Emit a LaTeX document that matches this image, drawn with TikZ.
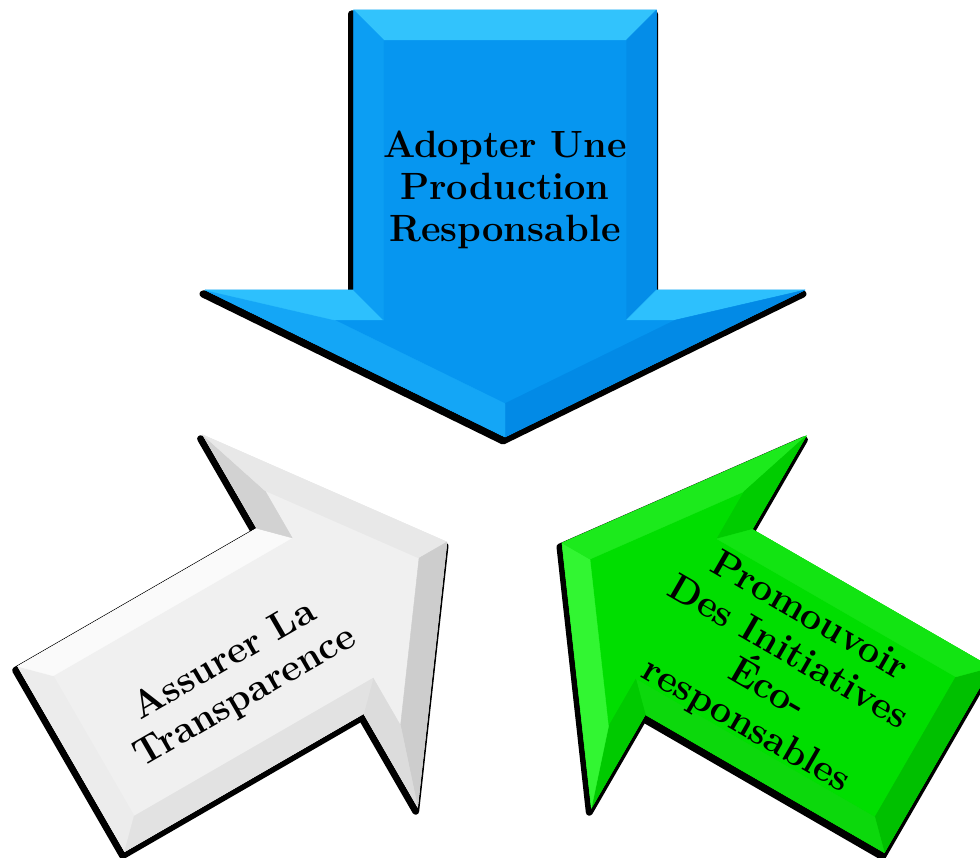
\documentclass[tikz,border=0pt]{standalone}
\usepackage{fontspec}
\definecolor{blBase}{RGB}{6,150,240}
\definecolor{blFa}{RGB}{50,195,252}
\definecolor{blFb}{RGB}{4,141,232}
\definecolor{blFc}{RGB}{45,192,253}
\definecolor{blFd}{RGB}{2,138,230}
\definecolor{blFe}{RGB}{20,166,246}
\definecolor{blFf}{RGB}{45,192,253}
\definecolor{blFg}{RGB}{12,158,243}
\definecolor{whBase}{RGB}{240,240,240}
\definecolor{whFa}{RGB}{236,236,236}
\definecolor{whFb}{RGB}{250,250,250}
\definecolor{whFc}{RGB}{210,210,210}
\definecolor{whFd}{RGB}{232,232,232}
\definecolor{whFe}{RGB}{205,205,205}
\definecolor{whFf}{RGB}{220,220,220}
\definecolor{whFg}{RGB}{226,226,226}
\definecolor{grBase}{RGB}{0,222,0}
\definecolor{grFa}{RGB}{0,192,0}
\definecolor{grFb}{RGB}{12,216,12}
\definecolor{grFc}{RGB}{0,202,0}
\definecolor{grFd}{RGB}{50,246,50}
\definecolor{grFe}{RGB}{28,234,28}
\definecolor{grFf}{RGB}{0,204,0}
\definecolor{grFg}{RGB}{18,228,18}
\tikzset{
  txt/.style={font=\fontsize{38}{42}\selectfont\bfseries, align=center, inner sep=0pt, text=black},
  facet/.style={line width=0.4pt, line join=round},
}
% #1 tip x, #2 tip y, #3 rotation, #4 w, #5 L, #6 H, #7 h, #8 bevel, #9 colour prefix
\newcommand{\bevarrow}[9]{%
  \begin{scope}[shift={(-2pt,-4pt)}]
    \begin{scope}[shift={(#1,#2)},rotate=#3]
      \filldraw[black, line width=7pt, line join=round]
        ({-#5-#7},{-#4}) -- ({-#7},{-#4}) -- ({-#7},{-#6}) -- (0,0) --
        ({-#7},{#6}) -- ({-#7},{#4}) -- ({-#5-#7},{#4}) -- cycle;
    \end{scope}
  \end{scope}
  \begin{scope}[shift={(#1,#2)},rotate=#3]
    \pgfmathsetmacro{\myR}{100*sqrt((#6/100)^2+(#7/100)^2)}%
    \pgfmathsetmacro{\myTip}{-(#8/#6)*\myR}%
    \pgfmathsetmacro{\myHy}{#6-(#8/#7)*(#6+\myR)}%
    \pgfmathsetmacro{\myBack}{-#5-#7}%
    \pgfmathsetmacro{\myBackIn}{-#5-#7+#8}%
    \pgfmathsetmacro{\myHIn}{-#7+#8}%
    \pgfmathsetmacro{\myWIn}{#4-#8}%
    \coordinate (o1) at (\myBack,{-#4});
    \coordinate (o2) at ({-#7},{-#4});
    \coordinate (o3) at ({-#7},{-#6});
    \coordinate (o4) at (0,0);
    \coordinate (o5) at ({-#7},{#6});
    \coordinate (o6) at ({-#7},{#4});
    \coordinate (o7) at (\myBack,{#4});
    \coordinate (i1) at (\myBackIn,{-\myWIn});
    \coordinate (i2) at (\myHIn,{-\myWIn});
    \coordinate (i3) at (\myHIn,{-\myHy});
    \coordinate (i4) at (\myTip,0);
    \coordinate (i5) at (\myHIn,{\myHy});
    \coordinate (i6) at (\myHIn,{\myWIn});
    \coordinate (i7) at (\myBackIn,{\myWIn});
    \filldraw[facet, fill=#9Base, draw=#9Base] (o1) -- (o2) -- (o3) -- (o4) -- (o5) -- (o6) -- (o7) -- cycle;
    \filldraw[facet, fill=#9Fa, draw=#9Fa] (o7) -- (o1) -- (i1) -- (i7) -- cycle;
    \filldraw[facet, fill=#9Fb, draw=#9Fb] (o1) -- (o2) -- (i2) -- (i1) -- cycle;
    \filldraw[facet, fill=#9Fc, draw=#9Fc] (o2) -- (o3) -- (i3) -- (i2) -- cycle;
    \filldraw[facet, fill=#9Fd, draw=#9Fd] (o3) -- (o4) -- (i4) -- (i3) -- cycle;
    \filldraw[facet, fill=#9Fe, draw=#9Fe] (o4) -- (o5) -- (i5) -- (i4) -- cycle;
    \filldraw[facet, fill=#9Ff, draw=#9Ff] (o5) -- (o6) -- (i6) -- (i5) -- cycle;
    \filldraw[facet, fill=#9Fg, draw=#9Fg] (o6) -- (o7) -- (i7) -- (i6) -- cycle;
  \end{scope}
}
\begin{document}
\begin{tikzpicture}[x=1pt,y=-1pt]
  \useasboundingbox (0,0) rectangle (980,858);
  % blue arrow (top, pointing down)
  \bevarrow{505}{437}{-90}{151.5}{280}{300}{147}{30}{bl}
  % white arrow (bottom left, pointing up-right)
  \bevarrow{447}{542}{30}{107}{276}{215}{158}{26}{wh}
  % green arrow (bottom right, pointing up-left)
  \bevarrow{562}{543}{150}{107}{276}{215}{158}{26}{gr}
  % labels
  \node[txt] (tb) at (505,190) {Adopter Une\\Production\\Responsable};
  \node[txt, rotate=30] (tw) at (235,679) {Assurer La\\Transparence};
  \node[txt, rotate=-30] (tg) at (777,672) {Promouvoir\\Des Initiatives\\Éco-\\responsables};
\end{tikzpicture}
\end{document}
